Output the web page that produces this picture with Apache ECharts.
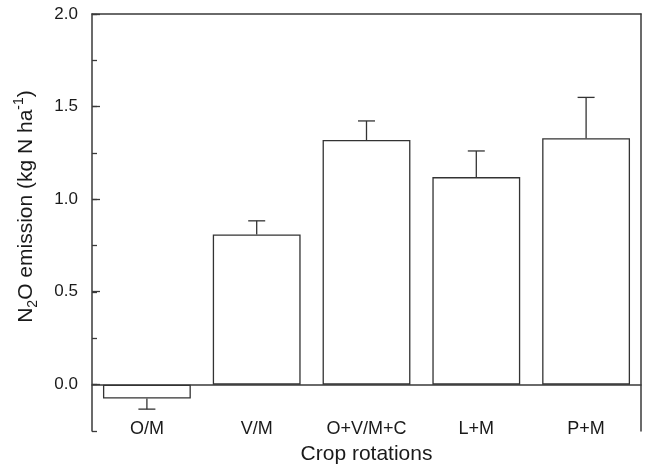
<!DOCTYPE html>
<html>
<head>
<meta charset="utf-8">
<script src="https://cdn.jsdelivr.net/npm/echarts@6/dist/echarts.min.js"></script>
<style>
html,body{margin:0;padding:0;background:#fff;}
#chart{width:645px;height:471px;}
</style>
</head>
<body>
<div id="chart"></div>
<script>
const categories = ['O/M', 'V/M', 'O+V/M+C', 'L+M', 'P+M'];
const emissionMeans = [-0.075, 0.81, 1.32, 1.12, 1.33];
const emissionErrors = [0.057, 0.074, 0.103, 0.141, 0.22];
const yMin = -0.25;
const yMax = 2.0;

const lineColor = '#3a3a3a';
const textColor = '#1a1a1a';
const fontFamily = "'Liberation Sans', Arial, Helvetica, sans-serif";

const errData = emissionMeans.map((m, i) => [i, m, emissionErrors[i]]);

const chart = echarts.init(document.getElementById('chart'), null, {renderer: 'canvas'});

const option = {
  backgroundColor: '#ffffff',
  animation: false,
  grid: [
    {left: 92, right: 4, top: 14, bottom: 40, containLabel: false, outerBoundsMode: 'none'},
    {left: 92, right: 4, top: 14, bottom: 87, containLabel: false, outerBoundsMode: 'none'}
  ],
  xAxis: [
    {
      type: 'category', gridIndex: 0, data: categories,
      axisLine: {show: true, onZero: true, lineStyle: {color: lineColor, width: 1.5}},
      axisTick: {show: false},
      axisLabel: {margin: -11, fontSize: 18, color: textColor, fontFamily: fontFamily},
      name: 'Crop rotations', nameLocation: 'middle', nameGap: 13,
      nameTextStyle: {fontSize: 21, color: textColor, fontFamily: fontFamily},
      splitLine: {show: false}
    },
    {
      type: 'category', gridIndex: 0, data: categories, position: 'top',
      axisLine: {show: true, onZero: false, lineStyle: {color: lineColor, width: 1.5}},
      axisTick: {show: false}, axisLabel: {show: false}, splitLine: {show: false}
    },
    {
      type: 'category', gridIndex: 1, data: categories, show: false
    }
  ],
  yAxis: [
    {
      type: 'value', gridIndex: 0, min: yMin, max: yMax, interval: 0.25, position: 'left',
      axisLine: {show: true, onZero: false, lineStyle: {color: lineColor, width: 1.5}},
      axisTick: {show: true, inside: true, length: 5, lineStyle: {color: lineColor, width: 1.3}},
      axisLabel: {show: false},
      splitLine: {show: false},
      name: '{n|N}{sub|2}{n|O emission (kg N ha}{sup|-1}{n|)}',
      nameLocation: 'middle', nameRotate: 90, nameGap: 52,
      nameTextStyle: {
        color: textColor, fontFamily: fontFamily, fontSize: 21,
        padding: [0, 0, 0, 32],
        rich: {
          n: {fontSize: 21, color: textColor, fontFamily: fontFamily, lineHeight: 28, verticalAlign: 'middle'},
          sub: {fontSize: 14, color: textColor, fontFamily: fontFamily, lineHeight: 13, verticalAlign: 'bottom'},
          sup: {fontSize: 14, color: textColor, fontFamily: fontFamily, lineHeight: 13, verticalAlign: 'top'}
        }
      }
    },
    {
      type: 'value', gridIndex: 0, min: yMin, max: yMax, position: 'right',
      axisLine: {show: true, onZero: false, lineStyle: {color: lineColor, width: 1.5}},
      axisTick: {show: false}, axisLabel: {show: false}, splitLine: {show: false}
    },
    {
      type: 'value', gridIndex: 1, min: 0, max: yMax, interval: 0.5, position: 'left',
      axisLine: {show: false},
      axisTick: {show: true, inside: true, length: 8, lineStyle: {color: lineColor, width: 1.3}},
      axisLabel: {
        show: true, margin: 14, fontSize: 17, color: textColor, fontFamily: fontFamily,
        formatter: v => v.toFixed(1)
      },
      splitLine: {show: false}
    }
  ],
  series: [
    {
      type: 'bar', xAxisIndex: 0, yAxisIndex: 0,
      data: emissionMeans,
      barCategoryGap: '20%',
      itemStyle: {color: '#ffffff', borderColor: '#333333', borderWidth: 1.3},
      z: 2
    },
    {
      type: 'custom', xAxisIndex: 0, yAxisIndex: 0,
      data: errData,
      encode: {x: 0, y: 1},
      z: 3,
      renderItem: function (params, api) {
        const idx = api.value(0);
        const m = api.value(1);
        const e = api.value(2);
        const end = m >= 0 ? m + e : m - e;
        const p0 = api.coord([idx, m]);
        const p1 = api.coord([idx, end]);
        const half = 8.5;
        const style = {stroke: '#333333', lineWidth: 1.3, fill: null};
        return {
          type: 'group',
          children: [
            {type: 'line', shape: {x1: p0[0], y1: p0[1], x2: p1[0], y2: p1[1]}, style: style},
            {type: 'line', shape: {x1: p1[0] - half, y1: p1[1], x2: p1[0] + half, y2: p1[1]}, style: style}
          ]
        };
      }
    }
  ]
};

chart.setOption(option);
</script>
</body>
</html>
